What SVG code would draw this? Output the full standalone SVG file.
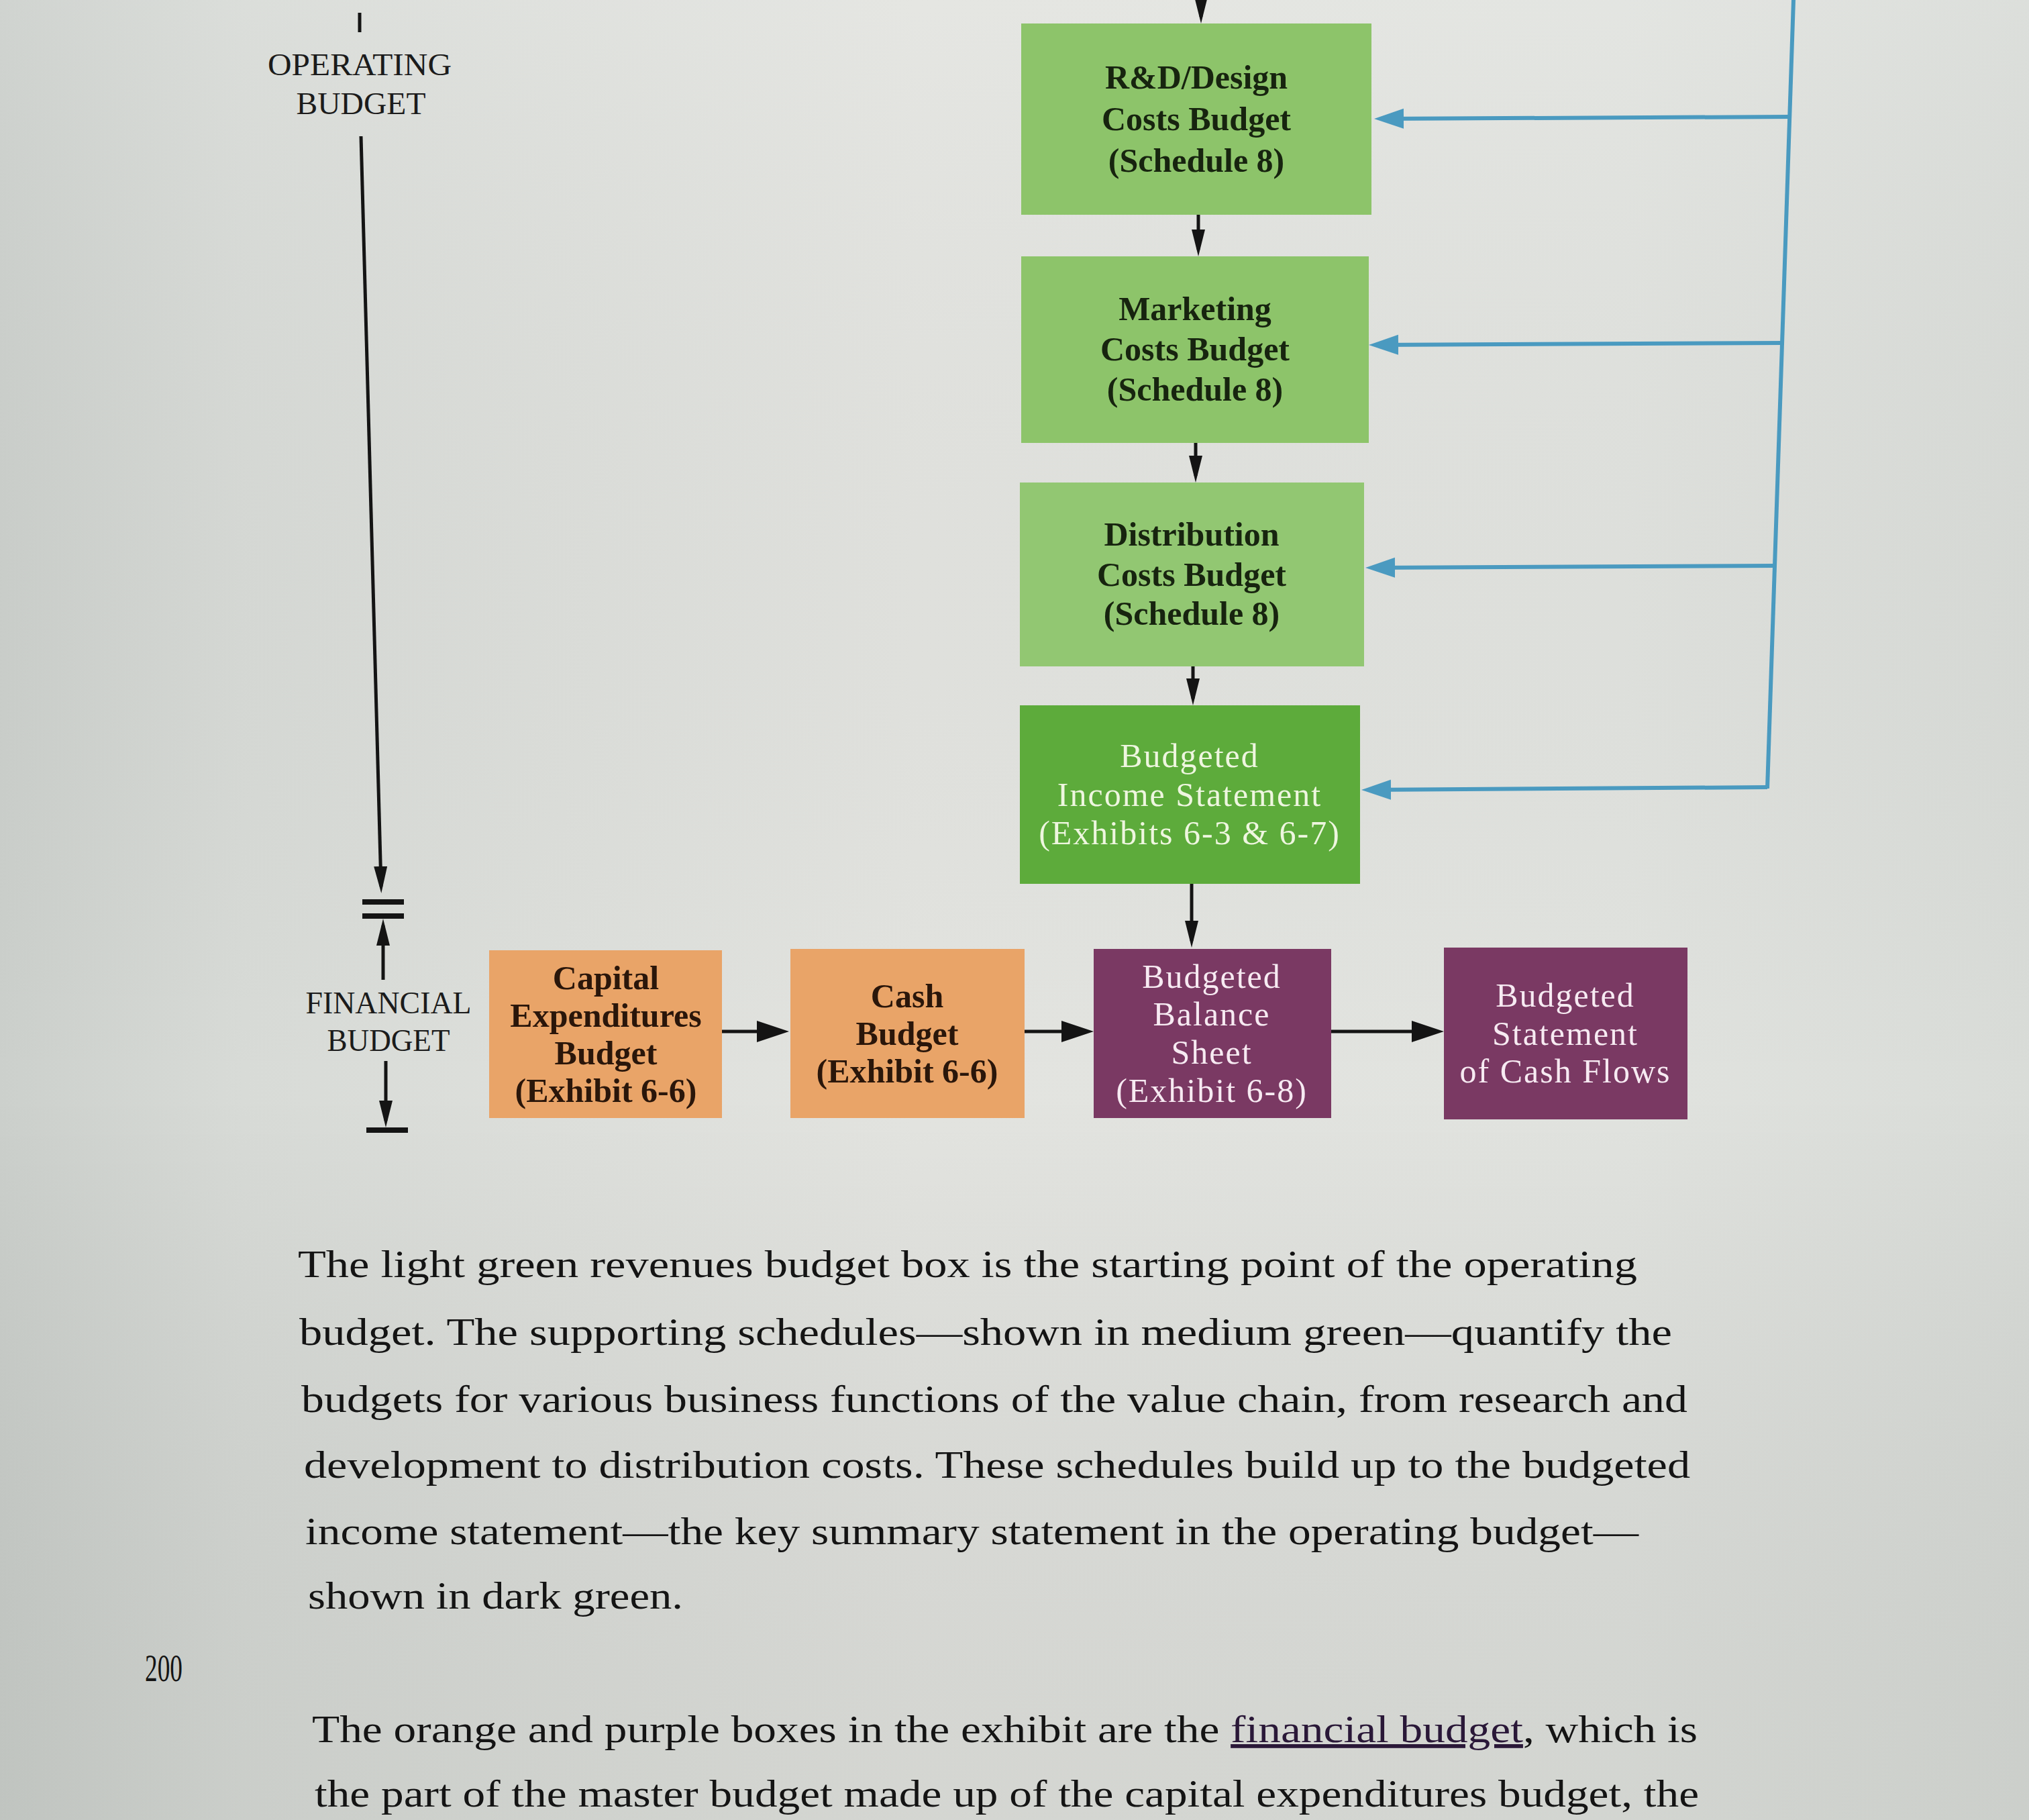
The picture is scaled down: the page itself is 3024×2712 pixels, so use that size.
<svg xmlns="http://www.w3.org/2000/svg" width="3024" height="2712" viewBox="0 0 3024 2712">
<defs>
<linearGradient id="bg" x1="0" y1="0" x2="1" y2="0">
<stop offset="0" stop-color="#ccd0cc"/>
<stop offset="0.12" stop-color="#d8dbd7"/>
<stop offset="0.45" stop-color="#e3e4e0"/>
<stop offset="0.8" stop-color="#e1e3df"/>
<stop offset="1" stop-color="#d9dcd8"/>
</linearGradient>
<linearGradient id="bgv" x1="0" y1="0" x2="0" y2="1">
<stop offset="0" stop-color="#ffffff" stop-opacity="0.08"/>
<stop offset="0.6" stop-color="#000000" stop-opacity="0"/>
<stop offset="1" stop-color="#6a706a" stop-opacity="0.12"/>
</linearGradient>
<marker id="hv" markerUnits="userSpaceOnUse" markerWidth="42" markerHeight="22" refX="30" refY="10" orient="auto">
<path d="M0,0 L40,10 L0,20 Z" fill="#141414"/>
</marker>
<marker id="hh" markerUnits="userSpaceOnUse" markerWidth="50" markerHeight="34" refX="38" refY="16" orient="auto">
<path d="M0,0 L48,16 L0,32 Z" fill="#141414"/>
</marker>
<marker id="hb" markerUnits="userSpaceOnUse" markerWidth="46" markerHeight="32" refX="34" refY="15" orient="auto">
<path d="M0,0 L44,15 L0,30 Z" fill="#4a9ac0"/>
</marker>
<style>
.lab{font-family:"Liberation Serif","DejaVu Serif",serif;font-size:46px;fill:#1b1b1b;text-anchor:middle}
.nt{font-family:"Liberation Serif","DejaVu Serif",serif;font-size:50px;text-anchor:middle}
.dk{fill:#17240f;font-weight:bold}
.lt{fill:#eef6df;letter-spacing:2px}
.ot{fill:#2a160a;font-weight:bold}
.pt{fill:#f7eaf2;letter-spacing:2px}
.para{font-family:"Liberation Serif","DejaVu Serif",serif;font-size:58px;fill:#141414}
.blk{stroke:#141414;stroke-width:5;fill:none}
.blu{stroke:#4a9ac0;stroke-width:6;fill:none}
.g1{fill:#8dc46a}
.g2{fill:#92c772}
.g3{fill:#5dab3b}
.or{fill:#e9a468}
.pu{fill:#7a3963}
</style>
</defs>
<rect x="0" y="0" width="3024" height="2712" fill="url(#bg)"/>
<rect x="0" y="0" width="3024" height="2712" fill="url(#bgv)"/>

<g id="operating-label">
<line x1="536" y1="19" x2="536" y2="48" class="blk" stroke-width="6"/>
<text class="lab" x="536" y="112" textLength="274" lengthAdjust="spacingAndGlyphs">OPERATING</text>
<text class="lab" x="538" y="170" textLength="193" lengthAdjust="spacingAndGlyphs">BUDGET</text>
</g>

<g id="financial-label">
<line x1="540" y1="1344" x2="602" y2="1344" stroke="#141414" stroke-width="8"/>
<line x1="540" y1="1365" x2="602" y2="1365" stroke="#141414" stroke-width="8"/>
<text class="lab" x="579" y="1510" textLength="247" lengthAdjust="spacingAndGlyphs">FINANCIAL</text>
<text class="lab" x="579" y="1566" textLength="183" lengthAdjust="spacingAndGlyphs">BUDGET</text>
<line x1="546" y1="1684" x2="608" y2="1684" stroke="#141414" stroke-width="8"/>
</g>

<g id="rd">
<rect class="g1" x="1522" y="35" width="522" height="285"/>
<text class="nt dk"><tspan x="1783" y="132">R&amp;D/Design</tspan><tspan x="1783" y="194">Costs Budget</tspan><tspan x="1783" y="256">(Schedule 8)</tspan></text>
</g>
<g id="marketing">
<rect class="g1" x="1522" y="382" width="518" height="278"/>
<text class="nt dk"><tspan x="1781" y="477">Marketing</tspan><tspan x="1781" y="537">Costs Budget</tspan><tspan x="1781" y="597">(Schedule 8)</tspan></text>
</g>
<g id="distribution">
<rect class="g2" x="1520" y="719" width="513" height="274"/>
<text class="nt dk"><tspan x="1776" y="813">Distribution</tspan><tspan x="1776" y="873">Costs Budget</tspan><tspan x="1776" y="931">(Schedule 8)</tspan></text>
</g>
<g id="income">
<rect class="g3" x="1520" y="1051" width="507" height="266"/>
<text class="nt lt"><tspan x="1773" y="1143">Budgeted</tspan><tspan x="1773" y="1201">Income Statement</tspan><tspan x="1773" y="1258">(Exhibits 6-3 &amp; 6-7)</tspan></text>
</g>
<g id="capital">
<rect class="or" x="729" y="1416" width="347" height="250"/>
<text class="nt ot"><tspan x="903" y="1474">Capital</tspan><tspan x="903" y="1530">Expenditures</tspan><tspan x="903" y="1586">Budget</tspan><tspan x="903" y="1642">(Exhibit 6-6)</tspan></text>
</g>
<g id="cash">
<rect class="or" x="1178" y="1414" width="349" height="252"/>
<text class="nt ot"><tspan x="1352" y="1501">Cash</tspan><tspan x="1352" y="1557">Budget</tspan><tspan x="1352" y="1613">(Exhibit 6-6)</tspan></text>
</g>
<g id="balance">
<rect class="pu" x="1630" y="1414" width="354" height="252"/>
<text class="nt pt"><tspan x="1806" y="1472">Budgeted</tspan><tspan x="1806" y="1528">Balance</tspan><tspan x="1806" y="1585">Sheet</tspan><tspan x="1806" y="1642">(Exhibit 6-8)</tspan></text>
</g>
<g id="cashflows">
<rect class="pu" x="2152" y="1412" width="363" height="256"/>
<text class="nt pt"><tspan x="2333" y="1500">Budgeted</tspan><tspan x="2333" y="1557">Statement</tspan><tspan x="2333" y="1613">of Cash Flows</tspan></text>
</g>

<g id="connectors">
<line class="blk" x1="538" y1="203" x2="568" y2="1321" marker-end="url(#hv)"/>
<line class="blk" x1="571" y1="1460" x2="571" y2="1379" marker-end="url(#hv)"/>
<line class="blk" x1="575" y1="1581" x2="575" y2="1670" marker-end="url(#hv)"/>
<line class="blk" x1="1790" y1="0" x2="1790" y2="25" marker-end="url(#hv)"/>
<line class="blk" x1="1786" y1="320" x2="1786" y2="372" marker-end="url(#hv)"/>
<line class="blk" x1="1782" y1="660" x2="1782" y2="709" marker-end="url(#hv)"/>
<line class="blk" x1="1778" y1="993" x2="1778" y2="1041" marker-end="url(#hv)"/>
<line class="blk" x1="1776" y1="1317" x2="1776" y2="1402" marker-end="url(#hv)"/>
<line class="blk" stroke-width="7" x1="1076" y1="1537" x2="1166" y2="1537" marker-end="url(#hh)"/>
<line class="blk" stroke-width="7" x1="1527" y1="1537" x2="1620" y2="1537" marker-end="url(#hh)"/>
<line class="blk" stroke-width="7" x1="1984" y1="1537" x2="2142" y2="1537" marker-end="url(#hh)"/>
<polyline class="blu" points="2673,0 2634,1175"/>
<line class="blu" x1="2667" y1="174" x2="2058" y2="177" marker-end="url(#hb)"/>
<line class="blu" x1="2658" y1="511" x2="2050" y2="514" marker-end="url(#hb)"/>
<line class="blu" x1="2646" y1="843" x2="2045" y2="846" marker-end="url(#hb)"/>
<line class="blu" x1="2634" y1="1173" x2="2039" y2="1177" marker-end="url(#hb)"/>
</g>

<g id="body-text">
<text class="para" x="444" y="1903" textLength="1996" lengthAdjust="spacingAndGlyphs">The light green revenues budget box is the starting point of the operating</text>
<text class="para" x="446" y="2004" textLength="2046" lengthAdjust="spacingAndGlyphs">budget. The supporting schedules—shown in medium green—quantify the</text>
<text class="para" x="449" y="2104" textLength="2066" lengthAdjust="spacingAndGlyphs">budgets for various business functions of the value chain, from research and</text>
<text class="para" x="453" y="2202" textLength="2066" lengthAdjust="spacingAndGlyphs">development to distribution costs. These schedules build up to the budgeted</text>
<text class="para" x="455" y="2301" textLength="1987" lengthAdjust="spacingAndGlyphs">income statement—the key summary statement in the operating budget—</text>
<text class="para" x="459" y="2397" textLength="559" lengthAdjust="spacingAndGlyphs">shown in dark green.</text>
<text class="para" x="216" y="2505" font-size="34" textLength="56" lengthAdjust="spacingAndGlyphs">200</text>
<text class="para" x="465" y="2596" textLength="2065" lengthAdjust="spacingAndGlyphs">The orange and purple boxes in the exhibit are the <tspan fill="#2a1838" text-decoration="underline">financial budget</tspan>, which is</text>
<text class="para" x="469" y="2692" textLength="2063" lengthAdjust="spacingAndGlyphs">the part of the master budget made up of the capital expenditures budget, the</text>
</g>
</svg>
